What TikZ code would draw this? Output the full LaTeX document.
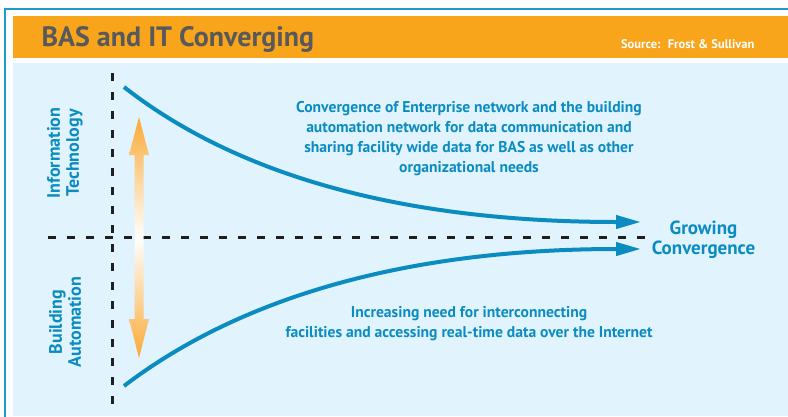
\documentclass[tikz,border=0pt]{standalone}
\usepackage{fontspec}
\setmainfont{PT Sans}
\usetikzlibrary{arrows.meta}
\definecolor{frameblue}{HTML}{1E9CCB}
\definecolor{bandorange}{HTML}{F8A51C}
\definecolor{panelblue}{HTML}{E1F3FC}
\definecolor{titlegray}{HTML}{58595B}
\definecolor{convblue}{HTML}{0A8CC1}
\definecolor{arroworange}{HTML}{FBA935}
\tikzset{
  axisline/.style={line width=3pt, dash pattern=on 8pt off 11pt, black!88},
  trendline/.style={line width=4pt, convblue, -{Triangle[length=25pt,width=13pt]}},
  axislabel/.style={rotate=90, text=convblue, align=center,
    font=\bfseries\fontsize{18}{19}\selectfont},
  bodytext/.style={text=convblue, align=center,
    font=\bfseries\fontsize{15.6}{20}\selectfont},
}
\begin{document}
\begin{tikzpicture}[x=1pt,y=-1pt]
\useasboundingbox (0,0) rectangle (788,416);
% frame, band and panel
\fill[white] (0,0) rectangle (788,416);
\draw[frameblue, line width=2pt] (5,420) -- (5,9) -- (792,9);
\fill[bandorange] (13,16) rectangle (788,58);
\fill[panelblue] (13,63) rectangle (788,416);
\node[anchor=west, text=titlegray, font=\bfseries\fontsize{28}{30}\selectfont] (title) at (38,39) {BAS and IT Converging};
\node[anchor=east, text=white, font=\bfseries\fontsize{12.5}{14}\selectfont] (source) at (758,44) {Source:~ Frost \& Sullivan};
% axes
\coordinate (vtop) at (112,73);
\coordinate (vbot) at (112,405);
\coordinate (hleft) at (48,237);
\coordinate (hright) at (648,237);
\draw[axisline] (vtop) -- (vbot);
\draw[axisline] (hleft) -- (hright);
% orange double arrow
\shade[top color=arroworange, bottom color=arroworange, middle color=white]
  (139,117) -- (149,155) -- (143.5,155) -- (143.5,319) -- (149,319) -- (139,358)
  -- (129,319) -- (134.5,319) -- (134.5,155) -- (129,155) -- cycle;
% converging curves
\coordinate (itstart) at (124,87);
\coordinate (itend) at (641,222);
\coordinate (bastart) at (124,386);
\coordinate (baend) at (641,249);
\draw[trendline] (itstart) .. controls (230,170) and (390,222) .. (itend);
\draw[trendline] (bastart) .. controls (230,305) and (390,249) .. (baend);
% labels
\node[axislabel] (itlabel) at (65,153) {Information\\Technology};
\node[axislabel] (balabel) at (65,322) {Building\\Automation};
\node[bodytext] (ittext) at (469,139) {Convergence of Enterprise network and the building\\automation network for data communication and\\sharing facility wide data for BAS as well as other\\organizational needs};
\node[bodytext] (batext) at (469,324) {Increasing need for interconnecting\\facilities and accessing real-time data over the Internet};
\node[text=convblue, align=center, font=\bfseries\fontsize{19}{19.5}\selectfont] (growing) at (703.5,239.5) {Growing\\Convergence};
\end{tikzpicture}
\end{document}
